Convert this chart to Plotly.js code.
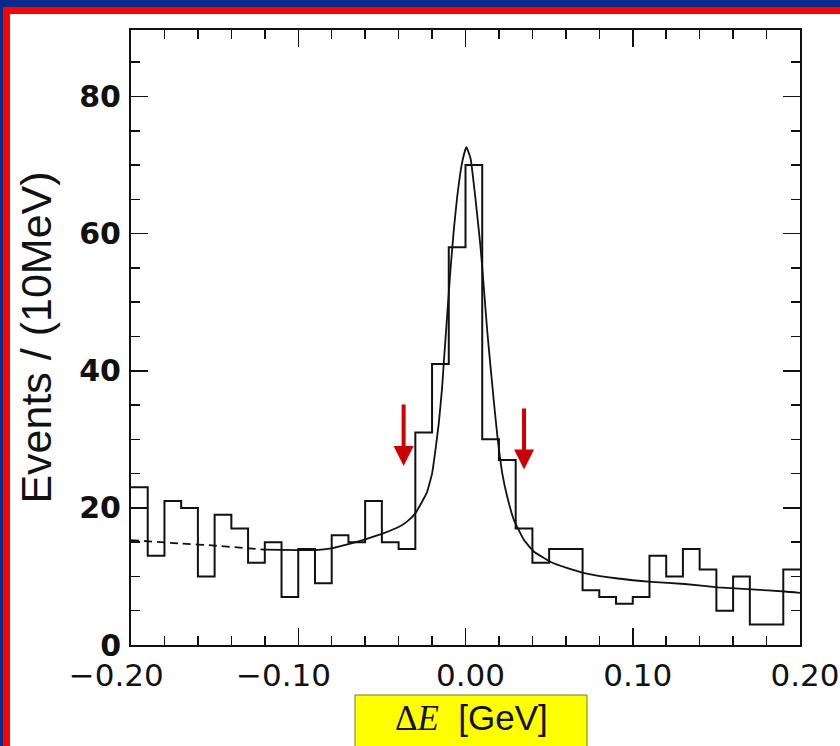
<!DOCTYPE html>
<html>
<head>
<meta charset="utf-8">
<script src="https://cdn.plot.ly/plotly-3.0.1.min.js"></script>
<style>
  html, body { margin: 0; padding: 0; background: #0a2a8c; }
  #chart { width: 840px; height: 746px; }
</style>
</head>
<body>
<div id="chart"></div>
<script>
// ---- data ----
const binStart = -0.20;
const binWidth = 0.01;
const counts = [23, 13, 21, 20, 10, 19, 17, 12, 15, 7,
                14, 9, 16, 15, 21, 15, 14, 31, 41, 58,
                70, 30, 27, 17, 12, 14, 14, 8, 7, 6,
                7, 13, 10, 14, 11, 5, 10, 3, 3, 11];

const fitX = [-0.20, -0.17, -0.15, -0.12, -0.10, -0.09, -0.08, -0.07, -0.06, -0.05,
              -0.04, -0.035, -0.030, -0.026, -0.023, -0.020, -0.018, -0.016, -0.014, -0.013,
              -0.011, -0.009, -0.007, -0.005, -0.002, 0.0005, 0.003, 0.006, 0.009, 0.011,
              0.013, 0.015, 0.017, 0.019, 0.022, 0.025, 0.029, 0.035, 0.041,
              0.051, 0.061, 0.071, 0.091, 0.111, 0.131, 0.151, 0.171, 0.191, 0.20];
const fitY = [15.3, 14.8, 14.5, 13.9, 13.85, 13.85, 14.1, 14.7, 15.4, 16.2,
              17.2, 18.0, 19.2, 20.9, 22.3, 25.0, 28.4, 32.3, 37.5, 41.1,
              47.9, 54.7, 60.5, 65.3, 70.4, 72.6, 71.0, 65.0, 58.0, 52.0,
              45.8, 40.5, 35.4, 30.6, 25.0, 21.6, 18.2, 15.3, 13.6,
              12.1, 11.2, 10.5, 9.7, 9.2, 8.9, 8.4, 8.1, 7.8, 7.6];
const fitDashedEnd = -0.12;   // fit drawn dashed left of this point

const xTickVals = [-0.20, -0.10, 0.00, 0.10, 0.20];
const xTickText = ['\u22120.20', '\u22120.10', '0.00', '0.10', '0.20'];
const yTickVals = [0, 20, 40, 60, 80];
const yTickText = ['0', '20', '40', '60', '80'];

const arrowX = [-0.037, 0.035];
const arrowTail = [35.3, 34.7];
const arrowTip = [26.1, 25.6];

const yTitle = 'Events / (10MeV)';

// ---- build traces ----
const edges = counts.map((_, i) => binStart + i * binWidth);
edges.push(binStart + counts.length * binWidth);
const histY = counts.concat([counts[counts.length - 1]]);

const dashX = [], dashY = [], solidX = [], solidY = [];
fitX.forEach((x, i) => {
  if (x <= fitDashedEnd) { dashX.push(x); dashY.push(fitY[i]); }
  if (x >= fitDashedEnd) { solidX.push(x); solidY.push(fitY[i]); }
});

const traces = [
  { type: 'scatter', mode: 'lines', x: edges, y: histY,
    line: { shape: 'hv', color: '#111', width: 2 }, hoverinfo: 'skip' },
  { type: 'scatter', mode: 'lines', x: dashX, y: dashY,
    line: { shape: 'spline', smoothing: 0.4, color: '#111', width: 1.8, dash: '8px,5px' }, hoverinfo: 'skip' },
  { type: 'scatter', mode: 'lines', x: solidX, y: solidY,
    line: { shape: 'spline', smoothing: 0.4, color: '#111', width: 1.8 }, hoverinfo: 'skip' }
];

// ---- page geometry (pixels -> paper) ----
const L = 131, R = 40, T = 30, B = 101, W = 840, H = 746;
const pw = W - L - R, ph = H - T - B;
const xp = px => (px - L) / pw;
const yp = py => (H - B - py) / ph;

const padLabel = s => s.startsWith('\u2212') ? s + '\u00a0\u00a0\u00a0' : '\u00a0' + s;

const xTitleHtml =
  '<span style="font-family:\'Liberation Serif\',serif">\u0394<i>E</i></span>' +
  '\u00a0\u00a0<span style="font-family:\'Liberation Sans\',Arial,sans-serif">[GeV]</span>';

const annotations = arrowX.map((x, i) => ({
  x: x, y: arrowTip[i], ax: x, ay: arrowTail[i],
  xref: 'x', yref: 'y', axref: 'x', ayref: 'y',
  text: '', showarrow: true, arrowhead: 2, arrowsize: 1, arrowwidth: 4,
  arrowcolor: '#cc0000', standoff: 0
}));
annotations.push({
  xref: 'paper', yref: 'paper', x: xp(472), y: yp(718),
  xanchor: 'center', yanchor: 'middle', showarrow: false,
  text: xTitleHtml,
  font: { family: 'Liberation Sans, Arial, sans-serif', size: 35, color: '#111' }
});

const shapes = [
  { type: 'rect', xref: 'paper', yref: 'paper', layer: 'below',
    x0: xp(3), x1: xp(860), y0: yp(780), y1: yp(7),
    fillcolor: '#ff0000', line: { width: 0 } },
  { type: 'rect', xref: 'paper', yref: 'paper', layer: 'below',
    x0: xp(10), x1: xp(860), y0: yp(780), y1: yp(14),
    fillcolor: '#ffffff', line: { width: 0 } },
  { type: 'rect', xref: 'paper', yref: 'paper', layer: 'below',
    x0: xp(355), x1: xp(587), y0: yp(760), y1: yp(695),
    fillcolor: '#ffff00', line: { width: 1, color: '#7a7a20' } }
];

const layout = {
  width: W, height: H,
  margin: { l: L, r: R, t: T, b: B, pad: 0 },
  paper_bgcolor: '#0a2a8c',
  plot_bgcolor: '#ffffff',
  showlegend: false,
  xaxis: {
    range: [-0.2, 0.2], showgrid: false, zeroline: false,
    showline: true, linecolor: '#111', linewidth: 2, mirror: 'ticks',
    ticks: 'inside', ticklen: 17, tickwidth: 1.5, tickcolor: '#111',
    tickvals: xTickVals, ticktext: xTickText.map(padLabel),
    tickfont: { family: 'DejaVu Sans, sans-serif', size: 31, color: '#111' },
    ticklabelstandoff: 2,
    minor: { dtick: 0.02, tick0: -0.2, ticks: 'inside', ticklen: 9, tickwidth: 1.5, tickcolor: '#111', showgrid: false }
  },
  yaxis: {
    range: [0, 89.7], showgrid: false, zeroline: false,
    showline: true, linecolor: '#111', linewidth: 2, mirror: 'ticks',
    ticks: 'inside', ticklen: 17, tickwidth: 1.5, tickcolor: '#111',
    tickvals: yTickVals, ticktext: yTickText,
    tickfont: { family: 'DejaVu Sans, sans-serif', size: 30, color: '#111', weight: 'bold' },
    ticklabelstandoff: 2,
    minor: { dtick: 5, tick0: 0, ticks: 'inside', ticklen: 9, tickwidth: 1.5, tickcolor: '#111', showgrid: false },
    title: { text: yTitle, standoff: 14,
             font: { family: 'Liberation Sans, Arial, sans-serif', size: 43, color: '#111' } }
  },
  annotations: annotations,
  shapes: shapes
};

Plotly.newPlot('chart', traces, layout, { displayModeBar: false, staticPlot: true });
</script>
</body>
</html>
